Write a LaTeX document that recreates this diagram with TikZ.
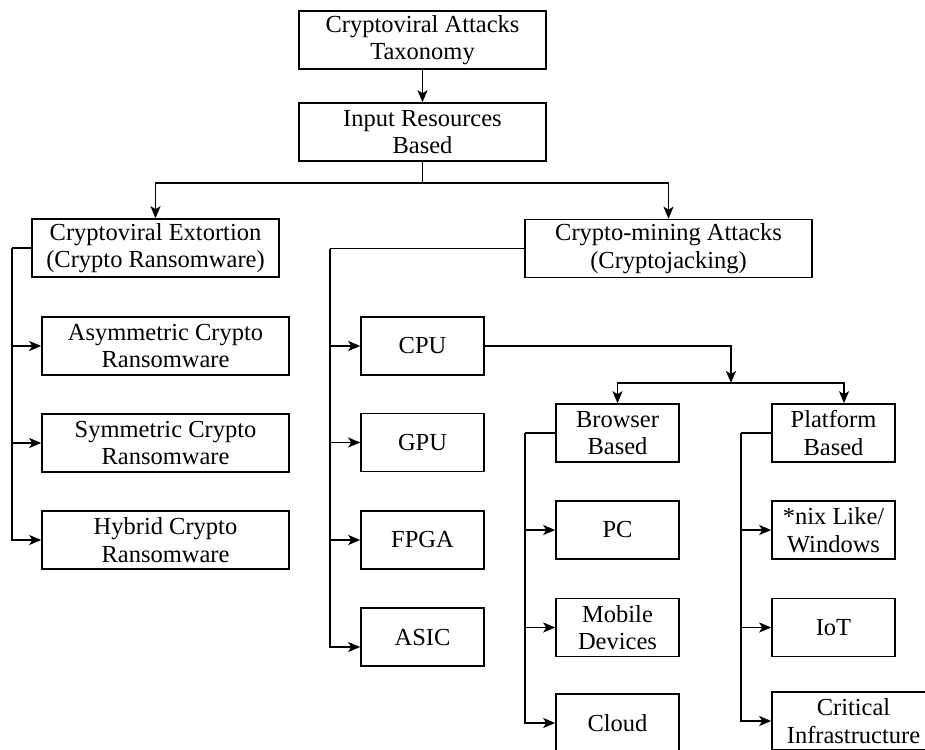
\documentclass[tikz,border=0pt]{standalone}
\usepackage{fontspec}
\setmainfont{Liberation Serif}
\usetikzlibrary{arrows.meta}
\begin{document}
\begin{tikzpicture}[x=1pt,y=-1pt,
  tbox/.style={draw, line width=1.6pt, inner sep=0pt, align=center,
    font=\fontsize{24.5}{27.5}\selectfont, minimum height=58pt},
  wide/.style={minimum width=247pt},
  narrow/.style={minimum width=123pt},
  ln/.style={line width=1.6pt},
  arr/.style={line width=1.6pt, -{Stealth[length=12pt,width=10pt,inset=3pt]}}]
\useasboundingbox (0,0) rectangle (925,749);
\clip (0,0) rectangle (925,749);

% nodes
\node[tbox, wide] (top) at (422.5,40) {Cryptoviral Attacks\\Taxonomy};
\node[tbox, wide] (inp) at (422.5,132) {Input Resources\\Based};
\node[tbox, wide] (ext) at (155.5,248) {Cryptoviral Extortion\\(Crypto Ransomware)};
\node[tbox, minimum width=287pt] (mine) at (668.5,248.5) {Crypto-mining Attacks\\(Cryptojacking)};

\node[tbox, wide] (asym) at (165.5,346) {Asymmetric Crypto\\Ransomware};
\node[tbox, wide] (sym) at (165.5,443) {Symmetric Crypto\\Ransomware};
\node[tbox, wide] (hyb) at (165.5,540) {Hybrid Crypto\\Ransomware};

\node[tbox, narrow] (cpu) at (422.5,346) {CPU};
\node[tbox, narrow] (gpu) at (422.5,442.5) {GPU};
\node[tbox, narrow] (fpga) at (422.5,540) {FPGA};
\node[tbox, narrow] (asic) at (422.5,637) {ASIC};

\node[tbox, narrow] (brw) at (617.5,433) {Browser\\Based};
\node[tbox, narrow] (plt) at (833.5,433) {Platform\\Based};

\node[tbox, narrow] (pc) at (617.5,530) {PC};
\node[tbox, narrow] (mob) at (617.5,627.5) {Mobile\\Devices};
\node[tbox, narrow] (cld) at (617.5,723) {Cloud};

\node[tbox, narrow] (nix) at (833.5,530) {*nix Like/\\Windows};
\node[tbox, narrow] (iot) at (833.5,627.5) {IoT};
\node[tbox, minimum width=163pt] (crit) at (853.5,721) {Critical\\Infrastructure};

% top connectors
\draw[arr] (top) -- (inp);
\coordinate (br) at (422.5,183);
\draw[ln] (inp.south) -- (br);
\draw[arr] (br) -| (ext.north);
\draw[arr] (br) -| (mine.north);

% extortion branch
\coordinate (eL) at (12,248);
\draw[ln] (ext.west) -- (eL);
\draw[arr] (eL) |- (asym.west);
\draw[arr] (eL) |- (sym.west);
\draw[arr] (eL) |- (hyb.west);

% mining branch
\coordinate (mL) at (330,248.5);
\draw[ln] (mine.west) -- (mL);
\draw[arr] (mL) |- (cpu.west);
\draw[arr] (mL) |- (gpu.west);
\draw[arr] (mL) |- (fpga.west);
\draw[arr] (mL) |- ([yshift=-10pt]asic.west);

% CPU split
\coordinate (cj) at (731,383);
\draw[arr] (cpu.east) -| (cj);
\draw[arr] (cj) -| (brw.north);
\draw[arr] (cj) -| ([xshift=10.5pt]plt.north);

% browser branch
\coordinate (bL) at (525,433);
\draw[ln] (brw.west) -- (bL);
\draw[arr] (bL) |- (pc.west);
\draw[arr] (bL) |- (mob.west);
\draw[arr] (bL) |- (cld.west);

% platform branch
\coordinate (pL) at (741,433);
\draw[ln] (plt.west) -- (pL);
\draw[arr] (pL) |- (nix.west);
\draw[arr] (pL) |- (iot.west);
\draw[arr] (pL) |- (crit.west);
\end{tikzpicture}
\end{document}
